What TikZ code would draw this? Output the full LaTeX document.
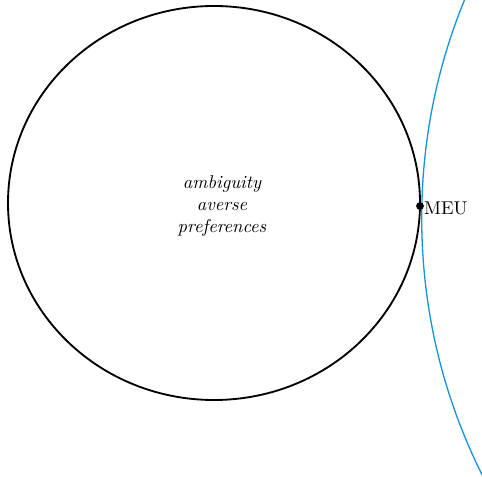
\documentclass[tikz,border=0pt]{standalone}
\begin{document}
\begin{tikzpicture}[x=0.54pt, y=-0.54pt,
  setline/.style={black, line width=1pt},
  frontier/.style={draw={rgb,255:red,20;green,146;blue,226}, line width=0.7pt},
  pointdot/.style={circle, fill=black, inner sep=0pt, minimum size=4.2pt},
  setlabel/.style={align=center, font=\itshape},
  ptlabel/.style={anchor=west, inner sep=2pt, yshift=-1.2pt}
]
  \useasboundingbox (0,0) rectangle (482,477);

  % set of ambiguity-averse preferences
  \draw[setline] (214,203) ellipse [x radius=206, y radius=197];
  \node[setlabel] (pref) at (222,206) {ambiguity\\averse\\preferences};

  % supporting curve touching the set at its rightmost point
  \begin{scope}
    \clip (0,0) rectangle (482,477);
    \draw[frontier] (996.7,218) circle [radius=575];
  \end{scope}

  \node[pointdot] (meu) at (420,206) {};
  \node[ptlabel] (meulabel) at (meu.center) {MEU};
\end{tikzpicture}
\end{document}
